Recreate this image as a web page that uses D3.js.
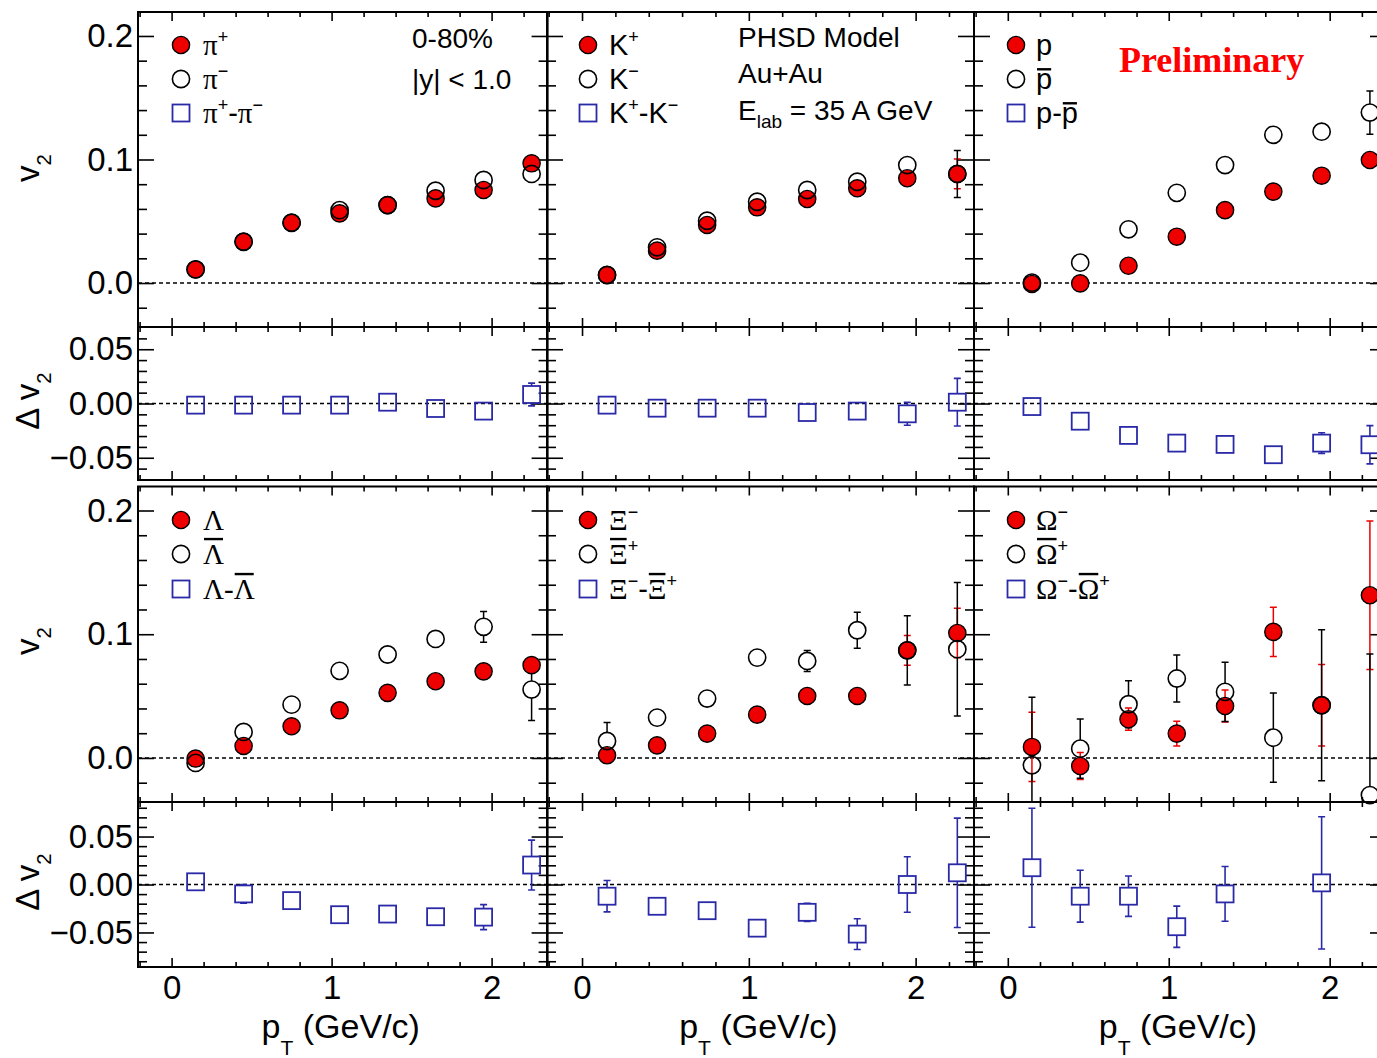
<!DOCTYPE html>
<html><head><meta charset="utf-8">
<script src="https://cdn.jsdelivr.net/npm/d3@7"></script>
<style>body{margin:0;background:#fff}svg{display:block}</style>
</head><body>
<svg id="c" width="1377" height="1058"></svg>
<script>
// ---------------- data ----------------
const pT = [0.15, 0.45, 0.75, 1.05, 1.35, 1.65, 1.95, 2.25];

const v2PiPlus     = [0.011, 0.0334, 0.0488, 0.0564, 0.0631, 0.0685, 0.0753, 0.0969];
const v2PiPlusErr  = [0.001, 0.001, 0.001, 0.001, 0.001, 0.001, 0.002, 0.003];
const v2PiMinus    = [0.011, 0.0334, 0.0488, 0.059, 0.0631, 0.0747, 0.0834, 0.0883];
const v2PiMinusErr = [0.001, 0.001, 0.001, 0.001, 0.001, 0.002, 0.002, 0.004];
const dv2Pi        = [-0.0015, -0.0015, -0.0015, -0.0015, 0.0012, -0.0046, -0.007, 0.0083];
const dv2PiErr     = [0.001, 0.001, 0.001, 0.001, 0.001, 0.002, 0.003, 0.0105];

const v2KPlus      = [0.0065, 0.0262, 0.047, 0.0613, 0.068, 0.0767, 0.0848, 0.0883];
const v2KPlusErr   = [0.001, 0.001, 0.001, 0.001, 0.002, 0.002, 0.003, 0.012];
const v2KMinus     = [0.0065, 0.0289, 0.0504, 0.0658, 0.0753, 0.082, 0.0955, 0.0883];
const v2KMinusErr  = [0.001, 0.001, 0.001, 0.002, 0.002, 0.002, 0.004, 0.019];
const dv2K         = [-0.0015, -0.0043, -0.0043, -0.0043, -0.0083, -0.007, -0.0095, 0.0012];
const dv2KErr      = [0.001, 0.001, 0.001, 0.002, 0.002, 0.003, 0.0105, 0.022];

const v2P          = [-0.0008, -0.0003, 0.014, 0.0375, 0.059, 0.074, 0.0869, 0.0996];
const v2PErr       = [0.001, 0.001, 0.001, 0.002, 0.002, 0.002, 0.003, 0.004];
const v2PBar       = [0.0003, 0.0165, 0.0435, 0.073, 0.0955, 0.12, 0.1225, 0.138];
const v2PBarErr    = [0.002, 0.002, 0.002, 0.002, 0.003, 0.003, 0.005, 0.0175];
const dv2P         = [-0.0028, -0.0163, -0.0294, -0.0365, -0.0377, -0.0472, -0.0365, -0.038];
const dv2PErr      = [0.002, 0.002, 0.002, 0.002, 0.003, 0.003, 0.0095, 0.0176];

const v2Lam        = [-0.0005, 0.0097, 0.0256, 0.0385, 0.0526, 0.062, 0.070, 0.075];
const v2LamErr     = [0.002, 0.002, 0.002, 0.002, 0.003, 0.003, 0.004, 0.006];
const v2LamBar     = [-0.004, 0.021, 0.0431, 0.0704, 0.0836, 0.0962, 0.106, 0.0553];
const v2LamBarErr  = [0.002, 0.003, 0.003, 0.003, 0.004, 0.005, 0.0124, 0.025];
const dv2Lam       = [0.0028, -0.0098, -0.0168, -0.0315, -0.0308, -0.0336, -0.034, 0.0203];
const dv2LamErr    = [0.003, 0.0098, 0.004, 0.004, 0.005, 0.006, 0.013, 0.026];

const v2Xi         = [0.0022, 0.0102, 0.0197, 0.035, 0.0501, 0.0501, 0.087, 0.101];
const v2XiErr      = [0.005, 0.003, 0.003, 0.004, 0.004, 0.005, 0.012, 0.02];
const v2XiBar      = [0.0137, 0.0326, 0.048, 0.0811, 0.0784, 0.1032, 0.087, 0.0879];
const v2XiBarErr   = [0.015, 0.004, 0.003, 0.004, 0.0085, 0.0145, 0.028, 0.054];
const dv2Xi        = [-0.0122, -0.0227, -0.0273, -0.0455, -0.029, -0.0517, 0.0, 0.0122];
const dv2XiErr     = [0.0163, 0.004, 0.004, 0.005, 0.0095, 0.016, 0.029, 0.057];

const v2Om         = [0.0089, -0.0065, 0.0313, 0.0197, 0.042, 0.1019, 0.0426, 0.1315];
const v2OmErr      = [0.028, 0.011, 0.009, 0.01, 0.013, 0.02, 0.033, 0.06];
const v2OmBar      = [-0.0059, 0.0075, 0.0434, 0.0642, 0.0534, 0.0164, 0.0426, -0.030];
const v2OmBarErr   = [0.055, 0.024, 0.019, 0.019, 0.024, 0.036, 0.061, 0.114];
const dv2Om        = [0.0175, -0.0122, -0.0122, -0.044, -0.0098, null, 0.0017, null];
const dv2OmErr     = [0.062, 0.027, 0.021, 0.0215, 0.0285, null, 0.069, null];

const v2TickVals   = [0.0, 0.1, 0.2];
const v2TickLabels = ["0.0", "0.1", "0.2"];
const dv2TickVals  = [-0.05, 0.0, 0.05];
const dv2TickLabels= ["\u22120.05", "0.00", "0.05"];
const pTTickVals   = [0, 1, 2];
const pTTickLabels = ["0", "1", "2"];

// legend labels (segments: text, sup/sub, serif, overline)
const legPi = [[{t:"\u03c0",serif:1},{t:"+",sup:1}], [{t:"\u03c0",serif:1},{t:"\u2212",sup:1}],
  [{t:"\u03c0",serif:1},{t:"+",sup:1},{t:"-"},{t:"\u03c0",serif:1},{t:"\u2212",sup:1}]];
const legK = [[{t:"K"},{t:"+",sup:1}], [{t:"K"},{t:"\u2212",sup:1}],
  [{t:"K"},{t:"+",sup:1},{t:"-K"},{t:"\u2212",sup:1}]];
const legP = [[{t:"p"}], [{t:"p",over:0.68}], [{t:"p-"},{t:"p",over:0.68}]];
const legLam = [[{t:"\u039b",serif:1}], [{t:"\u039b",serif:1,over:0.86}],
  [{t:"\u039b-",serif:1},{t:"\u039b",serif:1,over:0.86}]];
const legXi = [[{t:"\u039e",serif:1},{t:"\u2212",sup:1}], [{t:"\u039e",serif:1,over:0.86},{t:"+",sup:1}],
  [{t:"\u039e",serif:1},{t:"\u2212",sup:1},{t:"-"},{t:"\u039e",serif:1,over:0.86},{t:"+",sup:1}]];
const legOm = [[{t:"\u03a9",serif:1},{t:"\u2212",sup:1}], [{t:"\u03a9",serif:1,over:0.86},{t:"+",sup:1}],
  [{t:"\u03a9",serif:1},{t:"\u2212",sup:1},{t:"-"},{t:"\u03a9",serif:1,over:0.86},{t:"+",sup:1}]];

// ---------------- layout ----------------
const SANS = "'Liberation Sans', Arial, Helvetica, sans-serif";
const SERIF = "'Liberation Serif', 'Times New Roman', serif";
const RED = "#ee0000", BLUE = "#2a2aa8";
const XDOM = [-0.21, 2.35];
const cols = [[138, 547.6], [547, 974], [974, 1386]];
const rows = [
  {rng: [327, 12],   dom: [-0.0356, 0.2194], kind: "v2"},
  {rng: [480, 327],  dom: [-0.0705, 0.0705], kind: "dv2"},
  {rng: [802, 486.5],dom: [-0.0356, 0.2194], kind: "v2"},
  {rng: [967, 802],  dom: [-0.086, 0.086],   kind: "dv2"}
];
const v2Panels = [
  {r:0,c:0,pos:v2PiPlus,posE:v2PiPlusErr,neg:v2PiMinus,negE:v2PiMinusErr,leg:legPi},
  {r:0,c:1,pos:v2KPlus,posE:v2KPlusErr,neg:v2KMinus,negE:v2KMinusErr,leg:legK},
  {r:0,c:2,pos:v2P,posE:v2PErr,neg:v2PBar,negE:v2PBarErr,leg:legP},
  {r:2,c:0,pos:v2Lam,posE:v2LamErr,neg:v2LamBar,negE:v2LamBarErr,leg:legLam},
  {r:2,c:1,pos:v2Xi,posE:v2XiErr,neg:v2XiBar,negE:v2XiBarErr,leg:legXi},
  {r:2,c:2,pos:v2Om,posE:v2OmErr,neg:v2OmBar,negE:v2OmBarErr,leg:legOm}
];
const dPanels = [
  {r:1,c:0,d:dv2Pi,e:dv2PiErr},{r:1,c:1,d:dv2K,e:dv2KErr},{r:1,c:2,d:dv2P,e:dv2PErr},
  {r:3,c:0,d:dv2Lam,e:dv2LamErr},{r:3,c:1,d:dv2Xi,e:dv2XiErr},{r:3,c:2,d:dv2Om,e:dv2OmErr}
];

const svg = d3.select("#c");
const defs = svg.append("defs");

function scales(r, c) {
  return {
    x: d3.scaleLinear().domain(XDOM).range(cols[c]),
    y: d3.scaleLinear().domain(rows[r].dom).range(rows[r].rng)
  };
}

function rich(g, x, y, segs, size, anchor, fam) {
  const t = g.append("text").attr("x", x).attr("y", y)
    .attr("font-size", size).attr("font-family", fam || SANS)
    .attr("text-anchor", anchor || "start").attr("fill", "#000");
  let cur = 0, idx = 0; const overs = [];
  segs.forEach(s => {
    const target = s.sup ? -0.42 * size : (s.sub ? s.sub * size : 0);
    const ts = t.append("tspan").text(s.t);
    if (target !== cur) ts.attr("dy", target - cur);
    cur = target;
    if (s.sup || s.sub) ts.attr("font-size", size * (s.ss || 0.62));
    if (s.serif) ts.attr("font-family", SERIF);
    if (s.over) overs.push({a: idx, b: idx + s.t.length - 1, h: s.over});
    idx += s.t.length;
  });
  const n = t.node();
  overs.forEach(o => {
    const p0 = n.getStartPositionOfChar(o.a), p1 = n.getEndPositionOfChar(o.b);
    g.append("line").attr("x1", p0.x + 1).attr("x2", p1.x - 1)
      .attr("y1", y - o.h * size).attr("y2", y - o.h * size)
      .attr("stroke", "#000").attr("stroke-width", 2.4);
  });
  return t;
}

function errPath(x, y, vals, errs, half, cap) {
  const out = [];
  pT.forEach((p, i) => {
    const v = vals[i], e = errs[i];
    if (v == null || !e) return;
    const cx = x(p), cy = y(v), t = y(v + e), b = y(v - e);
    let s = "";
    if (cy - t > half + 0.5) s += `M${cx},${t}V${cy - half}M${cx - cap},${t}H${cx + cap}`;
    if (b - cy > half + 0.5) s += `M${cx},${cy + half}V${b}M${cx - cap},${b}H${cx + cap}`;
    if (s) out.push(s);
  });
  return out;
}

function minorList(lo, hi, step, majors) {
  return d3.range(lo, hi + 1).map(i => +(i * step).toFixed(4))
    .filter(v => !majors.some(m => Math.abs(m - v) < 1e-6));
}

// ---------------- frames & axes ----------------
rows.forEach((row, r) => cols.forEach((col, c) => {
  const {x, y} = scales(r, c);
  const g = svg.append("g").attr("class", "panel");
  const x0 = col[0], x1 = col[1], yT = row.rng[1], yB = row.rng[0];

  defs.append("clipPath").attr("id", `clip${r}${c}`).append("rect")
    .attr("x", x0).attr("y", yT).attr("width", x1 - x0).attr("height", yB - yT);

  const isV2 = row.kind === "v2";
  const yMaj = isV2 ? v2TickVals : dv2TickVals;
  const yLab = isV2 ? v2TickLabels : dv2TickLabels;
  const yMin = isV2 ? minorList(-1, 10, 0.02, yMaj) : (r === 1 ? minorList(-6, 6, 0.01, yMaj) : minorList(-8, 8, 0.01, yMaj));
  const xMin = minorList(-1, 11, 0.2, pTTickVals);

  const style = a => {
    a.select(".domain").remove();
    a.selectAll(".tick line").attr("stroke", "#000").attr("stroke-width", 1.6);
    a.selectAll("text").attr("font-family", SANS).attr("font-size", 33).attr("fill", "#000");
  };
  // left
  g.append("g").attr("transform", `translate(${x0},0)`)
    .call(d3.axisLeft(y).tickValues(yMaj).tickSize(-16).tickPadding(5)
      .tickFormat((d, i) => c === 0 ? yLab[i] : "")).call(style);
  g.append("g").attr("transform", `translate(${x0},0)`)
    .call(d3.axisLeft(y).tickValues(yMin).tickSize(-9).tickFormat("")).call(style);
  // right
  g.append("g").attr("transform", `translate(${x1},0)`)
    .call(d3.axisRight(y).tickValues(yMaj).tickSize(-16).tickFormat("")).call(style);
  g.append("g").attr("transform", `translate(${x1},0)`)
    .call(d3.axisRight(y).tickValues(yMin).tickSize(-9).tickFormat("")).call(style);
  // top
  g.append("g").attr("transform", `translate(0,${yT})`)
    .call(d3.axisTop(x).tickValues(pTTickVals).tickSize(-9).tickFormat("")).call(style);
  g.append("g").attr("transform", `translate(0,${yT})`)
    .call(d3.axisTop(x).tickValues(xMin).tickSize(-5).tickFormat("")).call(style);
  // bottom
  g.append("g").attr("transform", `translate(0,${yB})`)
    .call(d3.axisBottom(x).tickValues(pTTickVals).tickSize(-9).tickPadding(9)
      .tickFormat((d, i) => r === 3 ? pTTickLabels[i] : "")).call(style);
  g.append("g").attr("transform", `translate(0,${yB})`)
    .call(d3.axisBottom(x).tickValues(xMin).tickSize(-5).tickFormat("")).call(style);

  // zero dashed line
  g.append("line").attr("x1", x0).attr("x2", x1).attr("y1", y(0)).attr("y2", y(0))
    .attr("stroke", "#000").attr("stroke-width", 1.5).attr("stroke-dasharray", "4,3");

  // frame
  g.append("rect").attr("x", x0).attr("y", yT).attr("width", x1 - x0).attr("height", yB - yT)
    .attr("fill", "none").attr("stroke", "#000").attr("stroke-width", 2);

  if (r === 3) {
    rich(g, x(1.057), 1038, [{t:"p"},{t:"T",sub:0.5,ss:0.62},{t:" (GeV/c)"}], 34, "middle");
  }
}));

// ---------------- v2 panels ----------------
const R = 8.6;
v2Panels.forEach(P => {
  const {x, y} = scales(P.r, P.c);
  const g = svg.append("g");
  const ge = g.append("g").attr("clip-path", `url(#clip${P.r}${P.c})`);
  // filled (particle) first
  ge.selectAll("path.ef").data(errPath(x, y, P.pos, P.posE, R, 3.5)).join("path")
    .attr("class", "ef").attr("d", d => d).attr("stroke", RED).attr("stroke-width", 1.5).attr("fill", "none");
  g.selectAll("circle.f").data(pT.map((p, i) => [p, P.pos[i]])).join("circle")
    .attr("class", "f").attr("cx", d => x(d[0])).attr("cy", d => y(d[1])).attr("r", R)
    .attr("fill", RED).attr("stroke", "#000").attr("stroke-width", 1.4);
  // open (antiparticle)
  ge.selectAll("path.eo").data(errPath(x, y, P.neg, P.negE, R, 3.5)).join("path")
    .attr("class", "eo").attr("d", d => d).attr("stroke", "#000").attr("stroke-width", 1.5).attr("fill", "none");
  g.selectAll("circle.o").data(pT.map((p, i) => [p, P.neg[i]])).join("circle")
    .attr("class", "o").attr("cx", d => x(d[0])).attr("cy", d => y(d[1])).attr("r", R)
    .attr("fill", "none").attr("stroke", "#000").attr("stroke-width", 1.6);

  // legend
  const mx = [181, 588, 1016][P.c], tx = [203, 609, 1036][P.c];
  const ly = P.r === 0 ? [45, 79, 113] : [520, 554, 589];
  const lg = svg.append("g");
  lg.append("circle").attr("cx", mx).attr("cy", ly[0]).attr("r", R).attr("fill", RED).attr("stroke", "#000").attr("stroke-width", 1.4);
  lg.append("circle").attr("cx", mx).attr("cy", ly[1]).attr("r", R).attr("fill", "none").attr("stroke", "#000").attr("stroke-width", 1.6);
  lg.append("rect").attr("x", mx - 8.5).attr("y", ly[2] - 8.5).attr("width", 17).attr("height", 17)
    .attr("fill", "none").attr("stroke", BLUE).attr("stroke-width", 1.8);
  P.leg.forEach((segs, k) => rich(lg, tx, ly[k] + 10, segs, 29));
});

// ---------------- difference panels ----------------
const S = 17;
dPanels.forEach(P => {
  const {x, y} = scales(P.r, P.c);
  const g = svg.append("g");
  g.append("g").attr("clip-path", `url(#clip${P.r}${P.c})`)
    .selectAll("path").data(errPath(x, y, P.d, P.e, S / 2, 3.5)).join("path")
    .attr("d", d => d).attr("stroke", BLUE).attr("stroke-width", 1.6).attr("fill", "none");
  g.selectAll("rect").data(pT.map((p, i) => [p, P.d[i]]).filter(d => d[1] != null)).join("rect")
    .attr("x", d => x(d[0]) - S / 2).attr("y", d => y(d[1]) - S / 2).attr("width", S).attr("height", S)
    .attr("fill", "none").attr("stroke", BLUE).attr("stroke-width", 1.8);
});

// ---------------- titles & annotations ----------------
const tg = svg.append("g");
[[0, 168], [1, 401], [2, 641], [3, 882]].forEach(([r, cy]) => {
  const segs = rows[r].kind === "v2" ? [{t:"v"},{t:"2",sub:0.36,ss:0.62}] : [{t:"\u0394 v"},{t:"2",sub:0.36,ss:0.62}];
  const gg = tg.append("g").attr("transform", `translate(39,${cy}) rotate(-90)`);
  rich(gg, 0, 0, segs, 33, "middle");
});
rich(tg, 412, 48, [{t:"0-80%"}], 28);
rich(tg, 412, 89, [{t:"|y| < 1.0"}], 28);
rich(tg, 738, 47, [{t:"PHSD Model"}], 28);
rich(tg, 738, 83, [{t:"Au+Au"}], 28);
rich(tg, 738, 120, [{t:"E"},{t:"lab",sub:0.28,ss:0.68},{t:" = 35 A GeV"}], 28);
tg.append("text").attr("x", 1119).attr("y", 72).attr("font-family", SERIF)
  .attr("font-weight", "bold").attr("font-size", 36).attr("fill", "#ff0000").text("Preliminary");
</script>
</body></html>
